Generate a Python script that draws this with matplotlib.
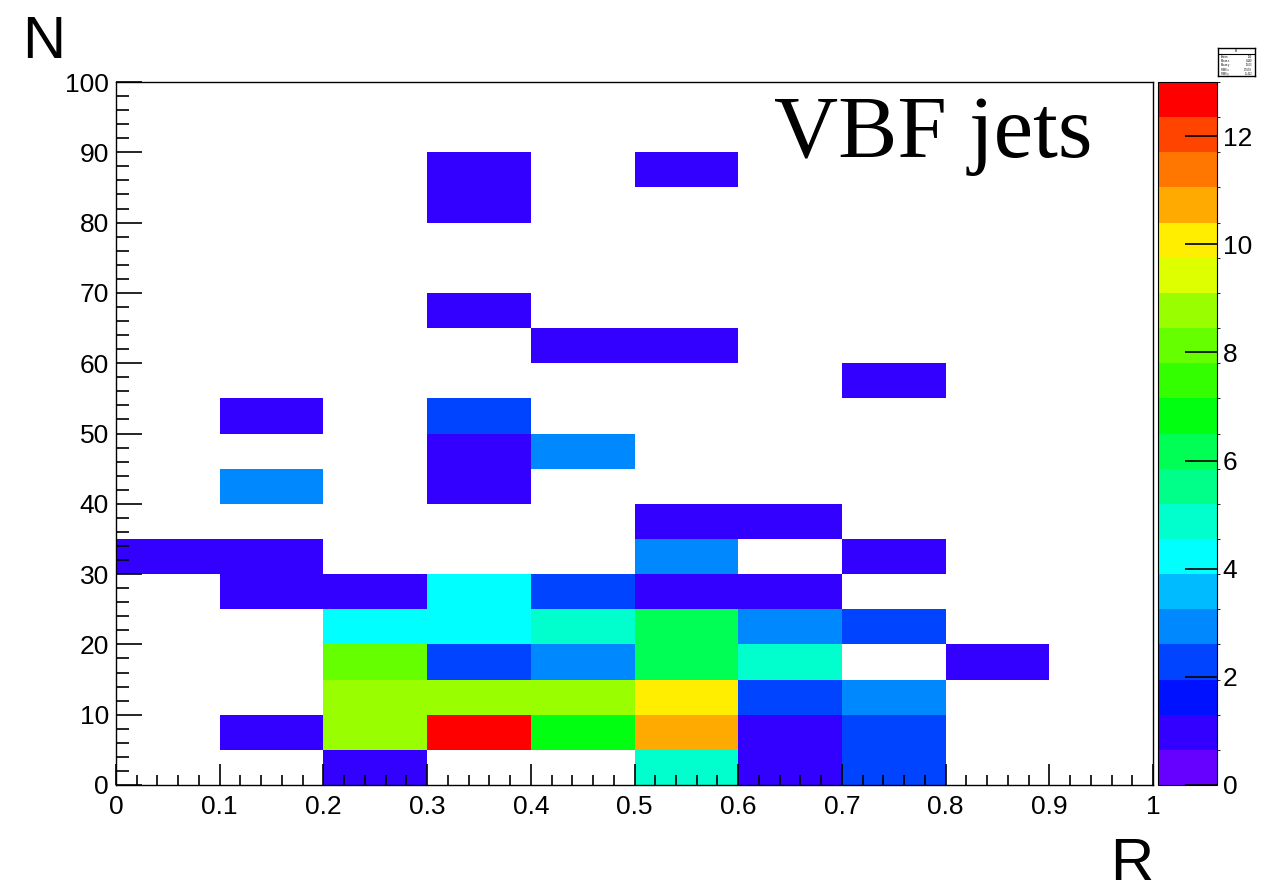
import numpy as np
import matplotlib
matplotlib.use("Agg")
import matplotlib.pyplot as plt
from matplotlib.colors import ListedColormap, BoundaryNorm
from matplotlib.ticker import MultipleLocator

# bin edges of the 2D histogram
x_edges = np.linspace(0, 1, 11)
y_edges = np.linspace(0, 100, 21)

# counts per bin, one row per N bin (row 0 = 0..5), columns R = 0..1 in steps of 0.1
counts = np.array([
    [0, 0, 1, 0, 0, 5, 1, 2, 0, 0],
    [0, 1, 9, 13, 7, 11, 1, 2, 0, 0],
    [0, 0, 9, 9, 9, 10, 2, 3, 0, 0],
    [0, 0, 8, 2, 3, 6, 5, 0, 1, 0],
    [0, 0, 4, 4, 5, 6, 3, 2, 0, 0],
    [0, 1, 1, 4, 2, 1, 1, 0, 0, 0],
    [1, 1, 0, 0, 0, 3, 0, 1, 0, 0],
    [0, 0, 0, 0, 0, 1, 1, 0, 0, 0],
    [0, 3, 0, 1, 0, 0, 0, 0, 0, 0],
    [0, 0, 0, 1, 3, 0, 0, 0, 0, 0],
    [0, 1, 0, 2, 0, 0, 0, 0, 0, 0],
    [0, 0, 0, 0, 0, 0, 0, 1, 0, 0],
    [0, 0, 0, 0, 1, 1, 0, 0, 0, 0],
    [0, 0, 0, 1, 0, 0, 0, 0, 0, 0],
    [0, 0, 0, 0, 0, 0, 0, 0, 0, 0],
    [0, 0, 0, 0, 0, 0, 0, 0, 0, 0],
    [0, 0, 0, 1, 0, 0, 0, 0, 0, 0],
    [0, 0, 0, 1, 0, 1, 0, 0, 0, 0],
    [0, 0, 0, 0, 0, 0, 0, 0, 0, 0],
    [0, 0, 0, 0, 0, 0, 0, 0, 0, 0],
], dtype=float)

z_max = 13
cbar_ticks = [0, 2, 4, 6, 8, 10, 12]

# ROOT-like palette, 20 contour levels
palette = ['#6600ff', '#3300ff', '#0011ff', '#0044ff', '#0088ff', '#00bbff',
           '#00ffff', '#00ffcc', '#00ff88', '#00ff55', '#00ff11', '#33ff00',
           '#66ff00', '#99ff00', '#ddff00', '#ffee00', '#ffaa00', '#ff7700',
           '#ff4400', '#ff0000']

plt.rcParams['font.family'] = ['Liberation Sans', 'DejaVu Sans']

W, H = 1274, 894
fig = plt.figure(figsize=(W / 100, H / 100), dpi=100)

def box(x0, y0, x1, y1):
    return [x0 / W, 1 - y1 / H, (x1 - x0) / W, (y1 - y0) / H]

ax = fig.add_axes(box(116, 82, 1153, 785))
cax = fig.add_axes(box(1158, 82, 1217, 785))

cmap = ListedColormap(palette)
cmap.set_over(palette[-1])
norm = BoundaryNorm(np.linspace(0, z_max, len(palette) + 1), cmap.N)

masked = np.ma.masked_where(counts <= 0, counts)
mesh = ax.pcolormesh(x_edges, y_edges, masked, cmap=cmap, norm=norm)

ax.set_xlim(0, 1)
ax.set_ylim(0, 100)
ax.xaxis.set_major_locator(MultipleLocator(0.1))
ax.xaxis.set_minor_locator(MultipleLocator(0.02))
ax.yaxis.set_major_locator(MultipleLocator(10))
ax.yaxis.set_minor_locator(MultipleLocator(2))
ax.xaxis.set_major_formatter(plt.FuncFormatter(lambda v, p: '%g' % round(v, 2)))
ax.tick_params(axis='x', which='major', direction='in', length=15, width=1.2, labelsize=19, pad=7)
ax.tick_params(axis='x', which='minor', direction='in', length=7, width=1.2)
ax.tick_params(axis='y', which='major', direction='in', length=19, width=1.2, labelsize=19, pad=5)
ax.tick_params(axis='y', which='minor', direction='in', length=9, width=1.2)
for s in ax.spines.values():
    s.set_linewidth(1.0)

# colour scale
cb = fig.colorbar(mesh, cax=cax, extend='neither')
cb.set_ticks(cbar_ticks)
cb.outline.set_linewidth(0.8)
cax.set_ylim(0, z_max)
cax.tick_params(axis='y', direction='in', length=23, width=1.2, labelsize=19, pad=4, right=True)

# axis titles
fig.text(22 / W, 1 - 58 / H, 'N', fontsize=43, ha='left', va='baseline')
fig.text(1110 / W, 1 - 892 / H, 'R', fontsize=43, ha='left', va='bottom')
fig.text(774 / W, 1 - 157 / H, 'VBF jets', fontsize=64,
         family=['Liberation Serif', 'DejaVu Serif'], ha='left', va='baseline')

# small stats box (computed from the histogram)
xc = 0.5 * (x_edges[:-1] + x_edges[1:])
yc = 0.5 * (y_edges[:-1] + y_edges[1:])
n = counts.sum()
mx = (counts.sum(axis=0) * xc).sum() / n
my = (counts.sum(axis=1) * yc).sum() / n
rx = np.sqrt((counts.sum(axis=0) * (xc - mx) ** 2).sum() / n)
ry = np.sqrt((counts.sum(axis=1) * (yc - my) ** 2).sum() / n)
sax = fig.add_axes(box(1218, 48, 1255, 76))
sax.set_xticks([])
sax.set_yticks([])
for s in sax.spines.values():
    s.set_linewidth(1.0)
sax.axhline(0.78, color='black', lw=0.8)
sax.text(0.5, 0.89, 'h2', fontsize=2, ha='center', va='center')
rows = [('Entries', '%d' % n), ('Mean x', '%.3f' % mx), ('Mean y', '%.2f' % my),
        ('RMS x', '%.4f' % rx), ('RMS y', '%.3f' % ry)]
for i, (k, v) in enumerate(rows):
    yy = 0.68 - i * 0.15
    sax.text(0.08, yy, k, fontsize=1.8, ha='left', va='center')
    sax.text(0.92, yy, v, fontsize=1.8, ha='right', va='center')

fig.savefig('out.png', dpi=100)
